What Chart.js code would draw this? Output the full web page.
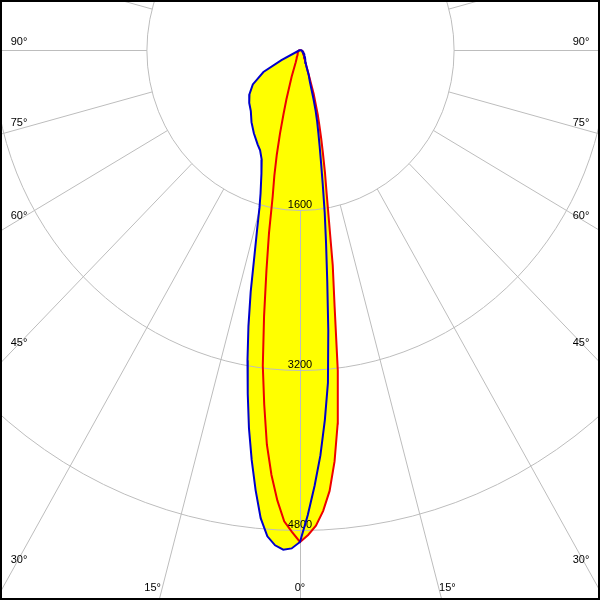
<!DOCTYPE html>
<html>
<head>
<meta charset="utf-8">
<script src="https://cdn.jsdelivr.net/npm/chart.js@4.4.0/dist/chart.umd.min.js"></script>
<style>
    html, body { margin: 0; padding: 0; background: #fff; }
    #wrap { width: 600px; height: 600px; }
</style>
</head>
<body>
<div id="wrap"><canvas id="polarChart" width="600" height="600"></canvas></div>
<script>
// gamma = angle from nadir (deg), shared by all four half planes
const gammaAngles = [0, 1, 2, 3, 4, 5, 6, 7, 8, 9, 10, 11, 12, 13, 14, 15, 16, 18, 20, 22.5, 25, 30, 35, 40, 45, 50, 55, 60, 62.5, 65, 70, 80, 90];

// luminous intensity (cd) per half plane
const intensityC0   = [4920, 4650, 4360, 4060, 3710, 3340, 2820, 2330, 1950, 1645, 1365, 1150, 985, 850, 740, 630, 510, 330, 265, 170, 140, 110, 90, 75, 60, 50, 40, 32, 28, 25, 20, 10, 0];
const intensityC180 = [4920, 4985, 5000, 4960, 4875, 4700, 4425, 4130, 3820, 3480, 3150, 2815, 2470, 2110, 1845, 1630, 1490, 1300, 1167, 1086, 1043, 961, 881, 797, 748, 687, 600, 440, 218, 0, 0, 0, 0];
const intensityC90  = [4920, 4850, 4760, 4615, 4420, 4130, 3755, 3230, 2590, 2180, 1740, 1450, 1250, 1065, 915, 780, 670, 460, 276, 180, 130, 95, 75, 60, 50, 45, 40, 38, 35, 30, 20, 10, 0];
const intensityC270 = [4920, 4820, 4715, 4510, 4260, 3960, 3565, 3180, 2690, 2236, 1860, 1490, 1285, 1075, 860, 665, 515, 282, 130, 90, 75, 60, 45, 37, 32, 28, 24, 20, 18, 16, 12, 6, 0];

const ringValues = [1600, 3200, 4800];
const angleTicks = [0, 15, 30, 45, 60, 75, 90];

const fillColor = '#ffff00';
const gridColor = '#bdbdbd';
const labelFont = '11px "Liberation Sans", Arial, sans-serif';

const rad = d => d * Math.PI / 180;

// one closed curve: C180/C270 half on the left (90 -> 0), C0/C90 on the right (0 -> 90)
function planeCurve(leftVals, rightVals) {
    const pts = [];
    for (let i = gammaAngles.length - 1; i >= 0; i--) {
        const g = rad(gammaAngles[i]);
        pts.push({ x: -leftVals[i] * Math.sin(g), y: -leftVals[i] * Math.cos(g) });
    }
    for (let i = 1; i < gammaAngles.length; i++) {
        const g = rad(gammaAngles[i]);
        pts.push({ x: rightVals[i] * Math.sin(g), y: -rightVals[i] * Math.cos(g) });
    }
    return pts;
}

const polarGrid = {
    id: 'polarGrid',
    beforeDatasetsDraw(chart) {
        const ctx = chart.ctx;
        const xs = chart.scales.x, ys = chart.scales.y;
        const cx = xs.getPixelForValue(0), cy = ys.getPixelForValue(0);

        // yellow area under both curves
        ctx.save();
        ctx.fillStyle = fillColor;
        chart.data.datasets.forEach((ds, i) => {
            const pts = chart.getDatasetMeta(i).data;
            ctx.beginPath();
            pts.forEach((p, j) => j ? ctx.lineTo(p.x, p.y) : ctx.moveTo(p.x, p.y));
            ctx.closePath();
            ctx.fill();
        });
        ctx.restore();

        ctx.save();
        ctx.translate(0.5, 0.5);
        ctx.strokeStyle = gridColor;
        ctx.lineWidth = 1;
        ringValues.forEach(r => {
            const rx = xs.getPixelForValue(r) - cx;
            const ry = cy - ys.getPixelForValue(r);
            ctx.beginPath();
            ctx.ellipse(cx, cy, rx, ry, 0, 0, Math.PI * 2);
            ctx.stroke();
        });
        const inner = ringValues[0];
        for (let a = 0; a < 360; a += 15) {
            const s = Math.sin(rad(a)), c = Math.cos(rad(a));
            ctx.beginPath();
            ctx.moveTo(xs.getPixelForValue(inner * s), ys.getPixelForValue(-inner * c));
            ctx.lineTo(xs.getPixelForValue(9000 * s), ys.getPixelForValue(-9000 * c));
            ctx.stroke();
        }
        ctx.restore();

        ctx.save();
        ctx.fillStyle = '#000';
        ctx.font = labelFont;
        ctx.textAlign = 'center';
        ctx.textBaseline = 'alphabetic';
        ringValues.forEach(r => {
            ctx.fillText(String(r), cx, ys.getPixelForValue(-r) - 2);
        });

        ctx.textBaseline = 'middle';
        const W = chart.width;
        const sideX = 19, bottomY = 588;
        angleTicks.forEach(a => {
            const dx = xs.getPixelForValue(1000 * Math.sin(rad(a))) - cx;
            const dy = ys.getPixelForValue(-1000 * Math.cos(rad(a))) - cy;
            const tSide = dx > 0 ? (cx - sideX) / dx : Infinity;
            const tBottom = dy > 0 ? (bottomY - cy) / dy : Infinity;
            const txt = a + '\u00B0';
            if (tSide < tBottom) {
                const y = cy + tSide * dy - (a - 45) * 0.18;
                ctx.fillText(txt, sideX, y);
                ctx.fillText(txt, W - sideX, y);
            } else {
                const px = tBottom * dx;
                if (a === 0) {
                    ctx.fillText(txt, cx, bottomY);
                } else {
                    ctx.fillText(txt, cx - px - 9, bottomY);
                    ctx.fillText(txt, cx + px + 9, bottomY);
                }
            }
        });
        ctx.restore();
    },
    afterDraw(chart) {
        const ctx = chart.ctx;
        ctx.save();
        ctx.strokeStyle = '#000';
        ctx.lineWidth = 4;
        ctx.strokeRect(0, 0, chart.width, chart.height);
        ctx.restore();
    }
};

new Chart(document.getElementById('polarChart'), {
    type: 'line',
    data: {
        datasets: [
            {
                label: 'C0 - C180',
                data: planeCurve(intensityC180, intensityC0),
                borderColor: '#0000cc',
                borderWidth: 2,
                pointRadius: 0,
                fill: false,
                tension: 0
            },
            {
                label: 'C90 - C270',
                data: planeCurve(intensityC270, intensityC90),
                borderColor: '#ee0000',
                borderWidth: 2,
                pointRadius: 0,
                fill: false,
                tension: 0
            }
        ]
    },
    options: {
        responsive: false,
        animation: false,
        layout: { padding: 0 },
        plugins: {
            legend: { display: false },
            tooltip: { enabled: false }
        },
        scales: {
            x: { type: 'linear', min: -3125, max: 3125, display: false },
            y: { type: 'linear', min: -5500, max: 500, display: false }
        }
    },
    plugins: [polarGrid]
});
</script>
</body>
</html>
